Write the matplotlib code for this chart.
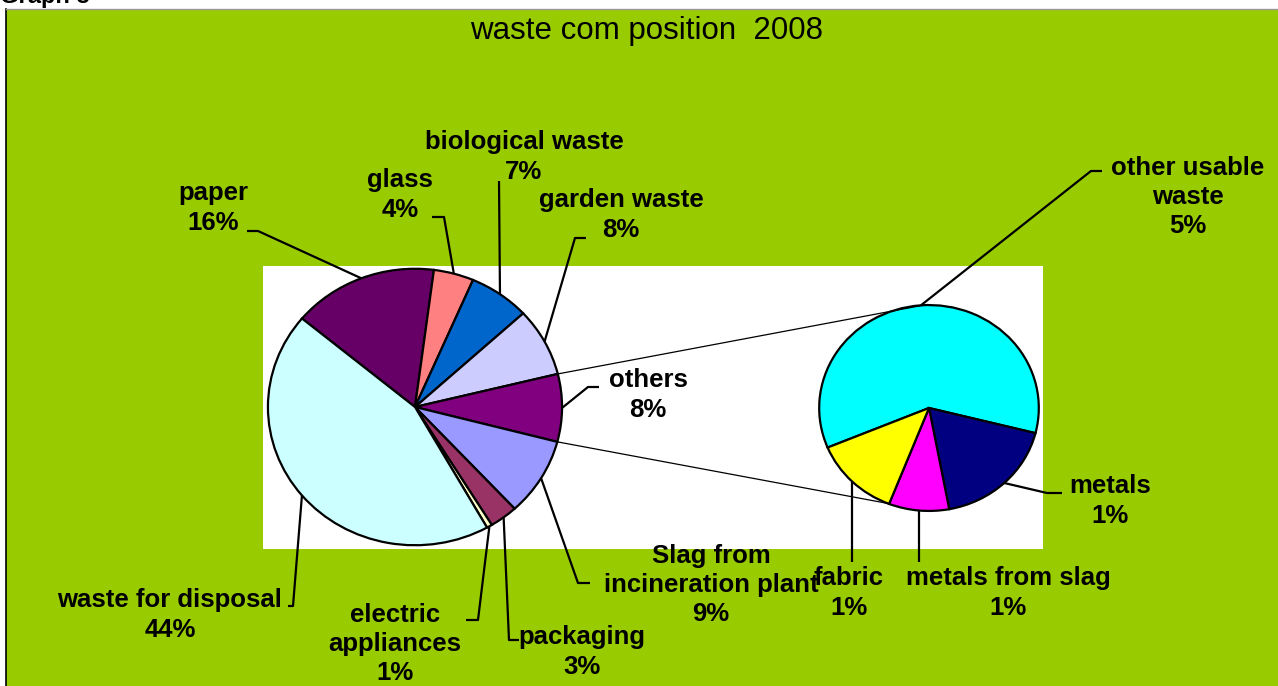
import matplotlib
matplotlib.use('Agg')
import matplotlib.pyplot as plt
import numpy as np
from matplotlib.patches import Rectangle

# ---------------- data ----------------
main_labels = ['paper', 'glass', 'biological waste', 'garden waste', 'others',
               'Slag from\nincineration plant', 'packaging', 'electric\nappliances',
               'waste for disposal']
main_values = [16.0, 4.4, 6.7, 8.0, 7.9, 9.1, 3.1, 0.6, 44.2]
main_colors = ['#660066', '#FF8080', '#0066CC', '#CCCCFF', '#800080',
               '#9999FF', '#993366', '#FFFFCC', '#CCFFFF']

sub_labels = ['other usable\nwaste', 'metals', 'metals from slag', 'fabric']
sub_values = [4.75, 1.43, 0.70, 1.01]
sub_colors = ['#00FFFF', '#000080', '#FF00FF', '#FFFF00']

title = 'waste com position  2008'

# ---------------- figure ----------------
W, H = 1278, 686
fig = plt.figure(figsize=(W / 100, H / 100), dpi=100)
fig.patch.set_facecolor('white')

FONT = 'Liberation Sans'
LBL = dict(family=FONT, fontweight='bold', fontsize=18.5, color='black',
           ha='center', va='center', linespacing=1.27)

# background axes (pixel coordinates, y down)
bg = fig.add_axes([0, 0, 1, 1], zorder=0)
bg.set_xlim(0, W); bg.set_ylim(H, 0); bg.axis('off')
bg.text(0, 3, 'Graph 3', family=FONT, fontweight='bold', fontsize=17,
        ha='left', va='baseline', zorder=0)
bg.add_patch(Rectangle((6, 9), W - 6, H - 9, facecolor='#99CC00',
                       edgecolor='none', zorder=1))
bg.plot([6, 6], [9, H], color='black', lw=1.2, zorder=2)
bg.plot([6, W], [9, 9], color='#999999', lw=1.0, zorder=2)
bg.add_patch(Rectangle((263, 266), 1043 - 263, 549 - 266, facecolor='white',
                       edgecolor='none', zorder=2))


def pix_axes(x0, y0, x1, y1, z):
    return fig.add_axes([x0 / W, (H - y1) / H, (x1 - x0) / W, (y1 - y0) / H], zorder=z)


wp = dict(edgecolor='black', linewidth=1.6)

# main pie
axm = pix_axes(265, 266, 565, 548, 1)
wm, _ = axm.pie(main_values, colors=main_colors, startangle=140.2,
                counterclock=False, radius=1, wedgeprops=wp)
axm.set_aspect('auto'); axm.set_xlim(-1.02, 1.02); axm.set_ylim(-1.02, 1.02)
axm.axis('off')

# secondary pie
axs = pix_axes(817, 303, 1041, 513, 1)
ws, _ = axs.pie(sub_values, colors=sub_colors, startangle=202.6,
                counterclock=False, radius=1, wedgeprops=wp)
axs.set_aspect('auto'); axs.set_xlim(-1.02, 1.02); axs.set_ylim(-1.02, 1.02)
axs.axis('off')

# foreground axes for text and leader lines
fg = fig.add_axes([0, 0, 1, 1], zorder=3)
fg.set_xlim(0, W); fg.set_ylim(H, 0); fg.axis('off'); fg.patch.set_alpha(0)


def to_fg(ax, angle_deg, r=1.0):
    a = np.deg2rad(angle_deg)
    disp = ax.transData.transform((r * np.cos(a), r * np.sin(a)))
    return fg.transData.inverted().transform(disp)


def mid(w):
    return 0.5 * (w.theta1 + w.theta2)


fg.text(647, 31, title, family=FONT, fontsize=22.5, ha='center', va='center')

total = sum(main_values)


def pct(v):
    return f'{int(round(v / total * 100 + 1e-9))}%'


# label positions (layout) and leader elbows for main pie
main_layout = [
    ((213, 208), [(247, 231), (258, 231)], 'start'),
    ((400, 195), [(432, 217), (444, 217)], 'start'),
    ((524, 157), [(499, 181)], 'start'),
    ((621, 215), [(586, 238), (575, 238)], 'start'),
    ((648, 395), [(599, 387), (588, 387)], 'start'),
    ((711, 585), [(578, 583), (590, 583)], 'end'),
    ((582, 652), [(509, 640), (519, 640)], 'end'),
    ((395, 644), [(466, 620), (478, 620)], 'start'),
    ((170, 615), [(293, 606), (288, 606)], 'end'),
]

for w, lab, v, (pos, elbows, mode) in zip(wm, main_labels, main_values, main_layout):
    fg.text(pos[0], pos[1], f'{lab}\n{pct(v)}', **LBL)
    e = to_fg(axm, mid(w))
    if mode == 'start':
        pts = elbows + [tuple(e)]
    else:
        pts = [tuple(e)] + elbows
    xs, ys = zip(*pts)
    fg.plot(xs, ys, color='black', lw=1.6, solid_capstyle='butt')

# secondary pie labels
sub_layout = [
    ((1188, 197), [(1102, 171), (1091, 171)], 'start'),
    ((1110, 501), [(1062, 493), (1047, 493)], 'start'),
    ((1008, 593), None, 'vert'),
    ((849, 593), None, 'vert'),
]
for w, lab, v, (pos, elbows, mode) in zip(ws, sub_labels, sub_values, sub_layout):
    fg.text(pos[0], pos[1], f'{lab}\n{pct(v)}', **LBL)
    e = to_fg(axs, mid(w))
    if mode == 'vert':
        pts = [tuple(e), (e[0], 562)]
    else:
        pts = elbows + [tuple(e)]
    xs, ys = zip(*pts)
    fg.plot(xs, ys, color='black', lw=1.6, solid_capstyle='butt')

# connector lines between the pies
others = wm[4]
p1 = to_fg(axm, others.theta2)
p2 = to_fg(axm, others.theta1)
q1 = to_fg(axs, 93)
q2 = to_fg(axs, -112)
fg.plot([p1[0], q1[0]], [p1[1], q1[1]], color='black', lw=0.9)
fg.plot([p2[0], q2[0]], [p2[1], q2[1]], color='black', lw=0.9)

fig.savefig('out.png', dpi=100, facecolor=fig.get_facecolor())
